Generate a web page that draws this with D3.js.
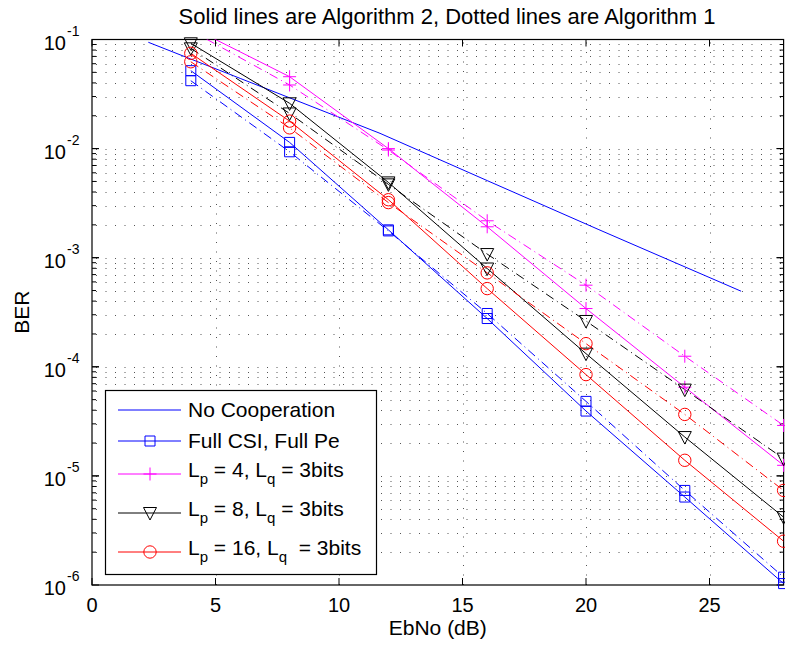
<!DOCTYPE html>
<head>
  <meta charset="utf-8">
  <script src="https://d3js.org/d3.v7.min.js"></script>
  <style>
    body {
      margin: 0;
      background: #fff;
    }

    text {
      font-family: "Liberation Sans", Arial, Helvetica, sans-serif;
      fill: #000;
      white-space: pre;
    }
  </style>
</head>

<body>
  <div id="chart"></div>

  <script>
    // values
    var ebno = [4, 8, 12, 16, 20, 24, 28];

    var noCoopEbNo = [2.28, 4, 6, 8, 11.66, 16, 20.49, 26.28];
    var noCoopBer = [0.0943, 0.0662, 0.0440, 0.0292, 0.0138, 0.00509, 0.00182, 0.000493];

    var fullCsiAlg2 = [0.0518, 0.0114, 0.00180, 2.77e-4, 3.93e-5, 6.4e-6, 1.03e-6];
    var fullCsiAlg1 = [0.0419, 0.00935, 0.00176, 3.08e-4, 4.82e-5, 7.36e-6, 1.18e-6];
    var lp4Alg2 = [0.130, 0.0456, 0.0100, 1.92e-3, 3.42e-4, 6.5e-5, 1.25e-5];
    var lp4Alg1 = [0.121, 0.0383, 0.0097, 2.18e-3, 5.6e-4, 1.25e-4, 2.9e-5];
    var lp8Alg2 = [0.0923, 0.026, 0.0049, 7.96e-4, 1.32e-4, 2.27e-5, 4.19e-6];
    var lp8Alg1 = [0.083, 0.021, 0.0047, 1.08e-3, 2.63e-4, 6.18e-5, 1.44e-5];
    var lp16Alg2 = [0.0747, 0.01786, 0.0034, 5.21e-4, 8.48e-5, 1.39e-5, 2.52e-6];
    var lp16Alg1 = [0.0625, 0.0155, 0.0032, 7.26e-4, 1.63e-4, 3.66e-5, 7.36e-6];

    var xTicks = [0, 5, 10, 15, 20, 25];
    var yTickExps = [-1, -2, -3, -4, -5, -6];
    var legendLabels = ["No Cooperation", "Full CSI, Full Pe", "L_p = 4, L_q = 3bits",
      "L_p = 8, L_q = 3bits", "L_p = 16, L_q  = 3bits"];

    var titleText = "Solid lines are Algorithm 2, Dotted lines are Algorithm 1";
    var xLabel = "EbNo (dB)";
    var yLabel = "BER";

    var width = 785;
    var height = 646;
    var pL = 92, pR = 783.6, pT = 39.5, pB = 585;

    var svg = d3.select("#chart").append("svg")
      .attr("width", width)
      .attr("height", height);

    var x = d3.scaleLinear().domain([0, 28]).range([pL, pR]);
    var y = d3.scaleLog().domain([1e-6, 1e-1]).range([pB, pT]);

    svg.append("defs").append("clipPath").attr("id", "plotclip")
      .append("rect")
      .attr("x", pL).attr("y", pT)
      .attr("width", pR - pL).attr("height", pB - pT);

    // GRID (dotted, major x, major+minor y)
    var minorY = [];
    for (var e = -6; e < -1; e++) {
      for (var k = 1; k < 10; k++) {
        if (!(e == -6 && k == 1)) minorY.push(k * Math.pow(10, e));
      }
    }
    var grid = svg.append("g")
      .attr("stroke", "#555")
      .attr("stroke-width", 1)
      .attr("stroke-dasharray", "1,8.5");
    grid.selectAll(".vgrid")
      .data(xTicks.filter(function(d) { return d > 0; }))
      .enter().append("line")
      .attr("x1", function(d) { return Math.round(x(d)) + 0.5; })
      .attr("x2", function(d) { return Math.round(x(d)) + 0.5; })
      .attr("y1", pB).attr("y2", pT);
    grid.selectAll(".hgrid")
      .data(minorY)
      .enter().append("line")
      .attr("x1", pL + 4).attr("x2", pR)
      .attr("y1", function(d) { return Math.round(y(d)) + 0.5; })
      .attr("y2", function(d) { return Math.round(y(d)) + 0.5; });

    // AXES BOX + TICKS
    var axes = svg.append("g").attr("stroke", "#000").attr("fill", "none");
    axes.append("rect")
      .attr("x", pL).attr("y", pT)
      .attr("width", pR - pL).attr("height", pB - pT)
      .attr("stroke-width", 1.2);

    axes.selectAll(".xt")
      .data(xTicks)
      .enter().append("path")
      .attr("d", function(d) {
        var px = x(d);
        return "M" + px + "," + pB + "V" + (pB - 7) + "M" + px + "," + pT + "V" + (pT + 7);
      });

    axes.selectAll(".yt")
      .data(yTickExps.map(function(e) { return Math.pow(10, e); }).concat(minorY))
      .enter().append("path")
      .attr("d", function(d) {
        var py = y(d);
        var len = Math.abs(Math.log10(d) - Math.round(Math.log10(d))) < 1e-9 ? 7 : 4;
        return "M" + pL + "," + py + "H" + (pL + len) + "M" + pR + "," + py + "H" + (pR - len);
      });

    // TICK LABELS
    svg.selectAll(".xlab")
      .data(xTicks)
      .enter().append("text")
      .attr("x", function(d) { return x(d); })
      .attr("y", 612)
      .attr("text-anchor", "middle")
      .attr("font-size", 20)
      .text(function(d) { return d; });

    var ylab = svg.selectAll(".ylab")
      .data(yTickExps)
      .enter().append("g");
    ylab.append("text")
      .attr("x", 66)
      .attr("y", function(d) { return y(Math.pow(10, d)) + 10; })
      .attr("text-anchor", "end")
      .attr("font-size", 20)
      .text("10");
    ylab.append("text")
      .attr("x", 67)
      .attr("y", function(d) { return y(Math.pow(10, d)) - 4; })
      .attr("font-size", 14)
      .text(function(d) { return "-" + (-d); });

    svg.append("text")
      .attr("x", (pL + pR) / 2).attr("y", 635)
      .attr("text-anchor", "middle").attr("font-size", 21)
      .text(xLabel);

    svg.append("text")
      .attr("transform", "translate(29," + ((pT + pB) / 2) + ") rotate(-90)")
      .attr("text-anchor", "middle").attr("font-size", 21)
      .text(yLabel);

    svg.append("text")
      .attr("x", 447).attr("y", 24)
      .attr("text-anchor", "middle").attr("font-size", 22)
      .text(titleText);

    // MARKERS
    function markerPath(type) {
      if (type == "square") return "M-5,-5H5V5H-5Z";
      if (type == "plus") return "M-6.5,0H6.5M0,-6.5V6.5";
      if (type == "tri") return "M-6.5,-5.5H6.5L0,7Z";
      if (type == "circle") return d3.symbol(d3.symbolCircle, Math.PI * 6.2 * 6.2)();
      return null;
    }

    var series = [
      { vals: fullCsiAlg1, color: "#0000ff", marker: "square", dash: true },
      { vals: fullCsiAlg2, color: "#0000ff", marker: "square", dash: false },
      { vals: lp4Alg1, color: "#ff00ff", marker: "plus", dash: true },
      { vals: lp4Alg2, color: "#ff00ff", marker: "plus", dash: false },
      { vals: lp8Alg1, color: "#000000", marker: "tri", dash: true },
      { vals: lp8Alg2, color: "#000000", marker: "tri", dash: false },
      { vals: lp16Alg1, color: "#ff0000", marker: "circle", dash: true },
      { vals: lp16Alg2, color: "#ff0000", marker: "circle", dash: false }
    ];

    var line = d3.line()
      .x(function(d) { return x(d[0]); })
      .y(function(d) { return y(d[1]); });

    var lines = svg.append("g").attr("clip-path", "url(#plotclip)");

    lines.append("path")
      .datum(d3.zip(noCoopEbNo, noCoopBer))
      .attr("d", line)
      .attr("fill", "none")
      .attr("stroke", "#0000ff")
      .attr("stroke-width", 1);

    series.forEach(function(s) {
      lines.append("path")
        .datum(d3.zip(ebno, s.vals))
        .attr("d", line)
        .attr("fill", "none")
        .attr("stroke", s.color)
        .attr("stroke-width", 1)
        .attr("stroke-dasharray", s.dash ? "9,4,1,4" : null);
    });

    series.forEach(function(s) {
      svg.append("g").selectAll("path")
        .data(d3.zip(ebno, s.vals).filter(function(d) { return d[1] <= 0.1; }))
        .enter().append("path")
        .attr("transform", function(d) { return "translate(" + x(d[0]) + "," + y(d[1]) + ")"; })
        .attr("d", markerPath(s.marker))
        .attr("fill", "none")
        .attr("stroke", s.color)
        .attr("stroke-width", 1);
    });

    // LEGEND
    var legendColors = ["#0000ff", "#0000ff", "#ff00ff", "#000000", "#ff0000"];
    var legendMarkers = [null, "square", "plus", "tri", "circle"];
    var legendLineY = [410, 441, 474, 513, 552];
    var legendBaseY = [417, 448, 477, 516, 555];

    var legend = svg.append("g");
    legend.append("rect")
      .attr("x", 105.5).attr("y", 390.5)
      .attr("width", 271).attr("height", 184)
      .attr("fill", "#fff")
      .attr("stroke", "#000")
      .attr("stroke-width", 1.2);

    legendLabels.forEach(function(lab, i) {
      legend.append("line")
        .attr("x1", 118).attr("x2", 181)
        .attr("y1", legendLineY[i]).attr("y2", legendLineY[i])
        .attr("stroke", legendColors[i]).attr("stroke-width", 1);
      if (legendMarkers[i]) {
        legend.append("path")
          .attr("transform", "translate(150," + legendLineY[i] + ")")
          .attr("d", markerPath(legendMarkers[i]))
          .attr("fill", "none")
          .attr("stroke", legendColors[i]);
      }
      var t = legend.append("text")
        .attr("x", 188).attr("y", legendBaseY[i])
        .attr("font-size", 21);
      var parts = lab.split(/_(\w)/);
      parts.forEach(function(p, j) {
        if (j % 2 == 1) {
          t.append("tspan").attr("font-size", 15).attr("dy", 7).text(p);
        } else if (j > 0) {
          t.append("tspan").attr("dy", -7).text(p);
        } else {
          t.append("tspan").text(p);
        }
      });
    });
  </script>
</body>
